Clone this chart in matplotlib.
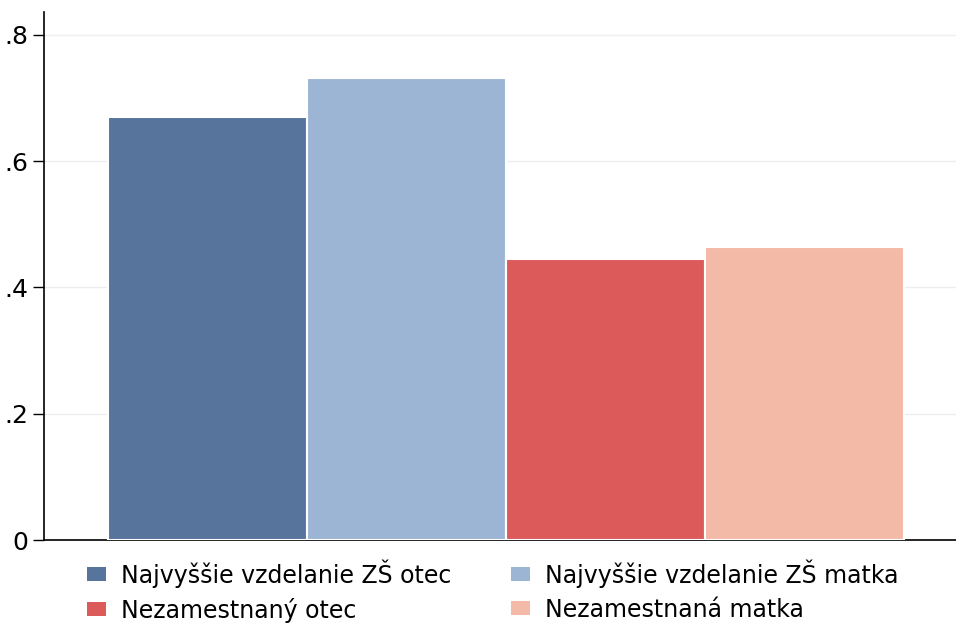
import matplotlib
matplotlib.use("Agg")
import matplotlib.pyplot as plt
import numpy as np
from matplotlib.patches import Patch

labels = ["Najvyššie vzdelanie ZŠ otec", "Najvyššie vzdelanie ZŠ matka",
          "Nezamestnaný otec", "Nezamestnaná matka"]
values = [0.670, 0.732, 0.445, 0.464]
colors = ["#56749c", "#9db5d5", "#dd5a5a", "#f3baa8"]
yticks = [0, 0.2, 0.4, 0.6, 0.8]
yticklabels = ["0", ".2", ".4", ".6", ".8"]

plt.rcParams['font.family'] = ['DejaVu Sans']
fig = plt.figure(figsize=(9.56, 6.3), dpi=100)
ax = fig.add_axes([44/956, 90/630, 1 - 44/956, (540-12)/630])

x = np.arange(len(values))
ax.bar(x, values, width=1.0, color=colors, edgecolor="white", linewidth=1.5, zorder=3)
ax.set_xlim(-0.8216, 3.761)
ax.set_ylim(0, 0.8364)
ax.set_yticks(yticks)
ax.set_yticklabels(yticklabels, fontsize=18)
ax.set_xticks([])
ax.yaxis.grid(True, color="#eeeeee", linewidth=1, zorder=0)
ax.set_axisbelow(True)
for s in ["top", "right"]:
    ax.spines[s].set_visible(False)
ax.spines["left"].set_linewidth(1.2)
ax.spines["bottom"].set_linewidth(1.2)
ax.tick_params(axis="y", length=8, width=1, pad=3)

order = [0, 2, 1, 3]
handles = [Patch(facecolor=colors[i], edgecolor="none") for i in order]
fig.legend(handles, [labels[i] for i in order], ncol=2, loc="lower left",
           bbox_to_anchor=(66/956, -0.022), frameon=False, fontsize=17,
           handlelength=0.8, handleheight=0.55, handletextpad=0.65,
           columnspacing=2.5, labelspacing=0.42)

fig.savefig("out.png", dpi=100)
